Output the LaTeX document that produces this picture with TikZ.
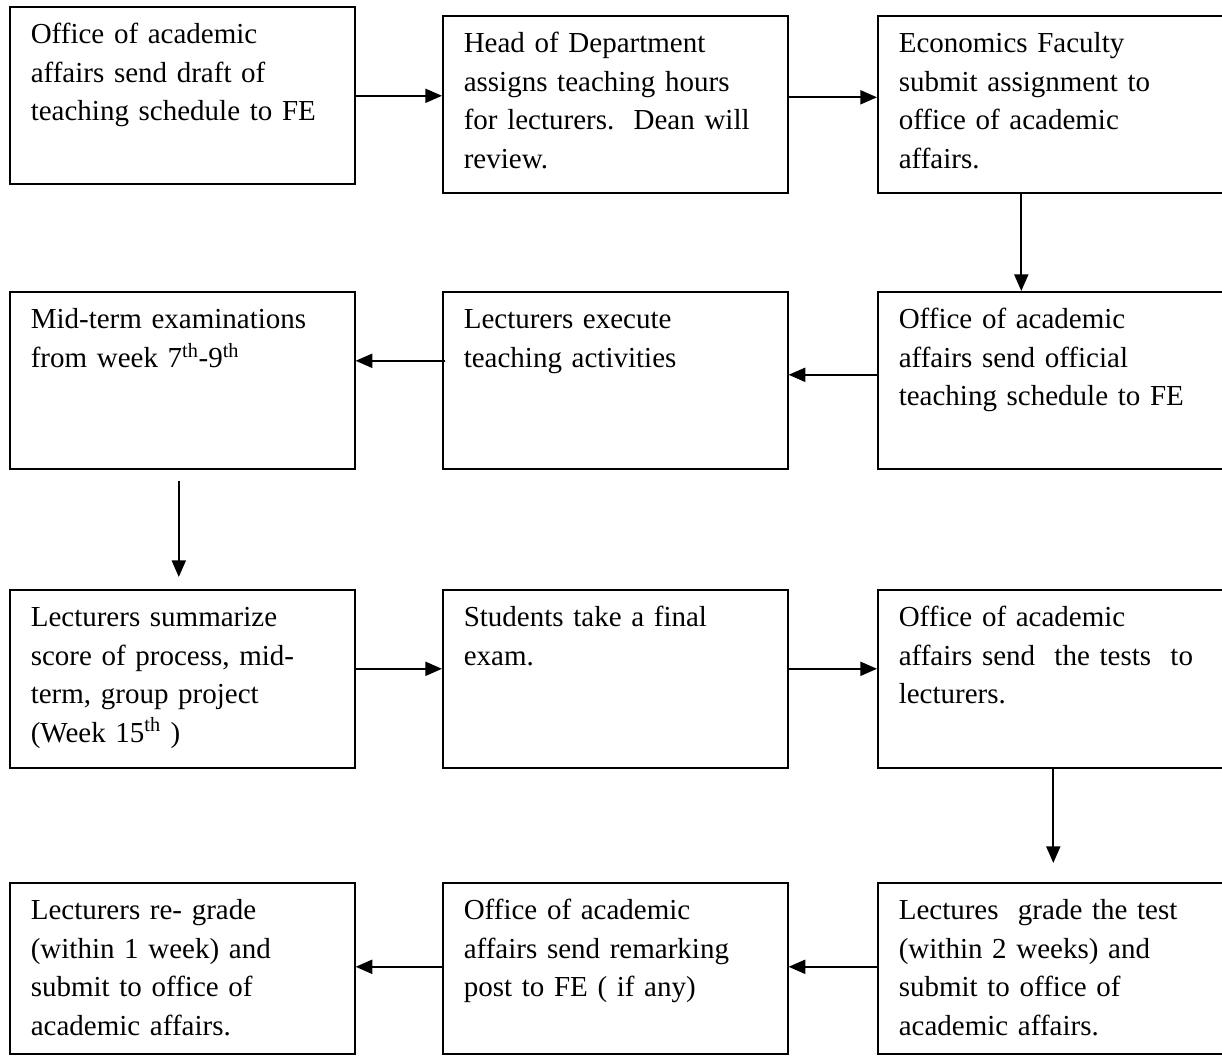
\documentclass[tikz,border=0pt]{standalone}
\usepackage{fontspec}
\setmainfont{Liberation Serif}
\usetikzlibrary{arrows.meta,calc}

\tikzset{every picture/.style={line width=0.75pt}}
\tikzset{
  stepbox/.style={draw, line width=1.2pt, anchor=north west, align=left,
    text width=227.25pt, inner xsep=15.75pt, inner ysep=0pt,
    text height=27.75pt, text depth=#1,
    font=\fontsize{21.75}{28.8}\selectfont},
  stepbox/.default=105pt,
  flow/.style={line width=1.5pt, -{Triangle[length=12.5pt,width=10.5pt]}}
}

\begin{document}
\begin{tikzpicture}[x=0.75pt,y=0.75pt,yscale=-1,xscale=1]
\useasboundingbox (0,0) rectangle (1222,1057);

% Text Node
\node[stepbox] (draft) at (9,6) {Office of academic\\affairs send draft of\\teaching schedule to FE};
% Text Node
\node[stepbox] (hours) at (442,15) {Head of Department\\assigns teaching hours\\for lecturers.\ \ Dean will\\review.};
% Text Node
\node[stepbox] (submit) at (877,15) {Economics Faculty\\submit assignment to\\office of academic\\affairs.};

% Text Node
\node[stepbox] (official) at (877,291) {Office of academic\\affairs send official\\teaching schedule to FE};
% Text Node
\node[stepbox] (teach) at (442,291) {Lecturers execute\\teaching activities};
% Text Node
\node[stepbox] (midterm) at (9,291) {Mid-term examinations\\from week 7\textsuperscript{th}-9\textsuperscript{th}};

% Text Node
\node[stepbox=105.75pt] (summary) at (9,589) {Lecturers summarize\\score of process, mid-\\term, group project\\(Week 15\textsuperscript{th} )};
% Text Node
\node[stepbox=105.75pt] (final) at (442,589) {Students take a final\\exam.};
% Text Node
\node[stepbox=105.75pt] (tests) at (877,589) {Office of academic\\affairs send\ \ the tests\ \ to\\lecturers.};

% Text Node
\node[stepbox=100.5pt] (grade) at (877,882) {Lectures\ \ grade the test\\(within 2 weeks) and\\submit to office of\\academic affairs.};
% Text Node
\node[stepbox=100.5pt] (remark) at (442,882) {Office of academic\\affairs send remarking\\post to FE ( if any)};
% Text Node
\node[stepbox=100.5pt] (regrade) at (9,882) {Lecturers re- grade\\(within 1 week) and\\submit to office of\\academic affairs.};

%Straight Lines
\draw[flow] ($(draft.east)+(0,0.5)$) -- ($(hours.west)+(0,-8.5)$);
\draw[flow] ($(hours.east)+(0,-7)$) -- ($(submit.west)+(0,-7)$);
\draw[flow] ($(submit.south)+(-29,0)$) -- ($(official.north)+(-29,0)$);
\draw[flow] ($(official.west)+(0,-5.5)$) -- ($(teach.east)+(0,-5.5)$);
\draw[flow] ($(teach.west)+(3,-19.5)$) -- ($(midterm.east)+(0,-19.5)$);
\draw[flow, shorten <=8.25pt, shorten >=9pt] ($(midterm.south)+(-3.5,0)$) -- ($(summary.north)+(-3.5,0)$);
\draw[flow] ($(summary.east)+(0,-10)$) -- ($(final.west)+(0,-10)$);
\draw[flow] ($(final.east)+(0,-10)$) -- ($(tests.west)+(0,-10)$);
\draw[flow, shorten >=14.25pt] ($(tests.south)+(3,0)$) -- ($(grade.north)+(3,0)$);
\draw[flow] ($(grade.west)+(0,-1.5)$) -- ($(remark.east)+(0,-1.5)$);
\draw[flow] ($(remark.west)+(0,-1.5)$) -- ($(regrade.east)+(0,-1.5)$);

\end{tikzpicture}
\end{document}
